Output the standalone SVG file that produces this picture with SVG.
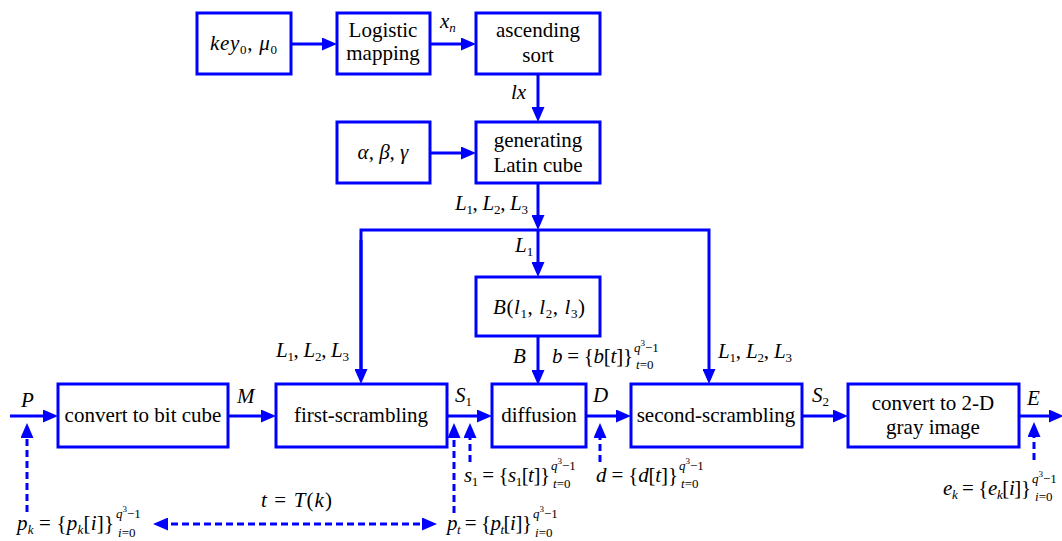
<svg xmlns="http://www.w3.org/2000/svg" width="1062" height="541" viewBox="0 0 1062 541" font-family="Liberation Serif, Times New Roman, DejaVu Serif, serif">
<style>
.box{fill:#fff;stroke:#00f;stroke-width:3}
.t{font-size:21px;fill:#000}
.i{font-style:italic}
.s{font-size:13px}
.ss{font-size:9px}
.m{text-anchor:middle}
.c{stroke:#00f;stroke-width:3;fill:none}
.d{stroke-dasharray:7 4}
</style>
<defs>
<marker id="a" markerUnits="userSpaceOnUse" markerWidth="15" markerHeight="13" refX="7" refY="6.5" orient="auto">
<path d="M0,0 L15,6.5 L0,13 z" fill="#00f"/>
</marker>
<marker id="a2" markerUnits="userSpaceOnUse" markerWidth="15" markerHeight="13" refX="8" refY="6.5" orient="auto-start-reverse">
<path d="M0,0 L15,6.5 L0,13 z" fill="#00f"/>
</marker>
</defs>

<g id="connectors">
<path class="c" d="M291,44 H329" marker-end="url(#a)"/>
<path class="c" d="M430,44 H468" marker-end="url(#a)"/>
<path class="c" d="M538,74 V114" marker-end="url(#a)"/>
<path class="c" d="M430,153 H468" marker-end="url(#a)"/>
<path class="c" d="M538,183 V222" marker-end="url(#a)"/>
<path class="c" d="M361,376 V230 H709 V376" marker-end="url(#a)"/>
<path class="c" d="M361,240 V376" marker-end="url(#a)"/>
<path class="c" d="M538,230 V269" marker-end="url(#a)"/>
<path class="c" d="M538,336 V377" marker-end="url(#a)"/>
<path class="c" d="M10,416 H50" marker-end="url(#a)"/>
<path class="c" d="M228,416 H268" marker-end="url(#a)"/>
<path class="c" d="M447,416 H484" marker-end="url(#a)"/>
<path class="c" d="M586,416 H623" marker-end="url(#a)"/>
<path class="c" d="M802,416 H840" marker-end="url(#a)"/>
<path class="c" d="M1019,416 H1056" marker-end="url(#a)"/>
<path class="c d" d="M27,512 V431" marker-end="url(#a)"/>
<path class="c d" d="M454,513 V431" marker-end="url(#a)"/>
<path class="c d" d="M470,462 V431" marker-end="url(#a)"/>
<path class="c d" d="M600,462 V431" marker-end="url(#a)"/>
<path class="c d" d="M1034,460 V430" marker-end="url(#a)"/>
<path class="c d" d="M160,524 H430" marker-start="url(#a2)" marker-end="url(#a2)"/>
</g>

<g id="key">
<rect class="box" x="197" y="13" width="94" height="61"/>
<text class="t" x="210" y="50" textLength="67"><tspan class="i">key</tspan><tspan class="s" dy="4">0</tspan><tspan dy="-4">, </tspan><tspan class="i">μ</tspan><tspan class="s" dy="4">0</tspan></text>
</g>
<g id="logistic">
<rect class="box" x="337" y="13" width="93" height="61"/>
<text class="t m" x="383" y="37">Logistic</text>
<text class="t m" x="383" y="60">mapping</text>
</g>
<g id="sort">
<rect class="box" x="476" y="13" width="124" height="61"/>
<text class="t m" x="538" y="37">ascending</text>
<text class="t m" x="538" y="62">sort</text>
</g>
<g id="params">
<rect class="box" x="337" y="122" width="93" height="61"/>
<text class="t m i" x="383" y="159">α, β, γ</text>
</g>
<g id="latin">
<rect class="box" x="476" y="122" width="124" height="61"/>
<text class="t m" x="538" y="147">generating</text>
<text class="t m" x="538" y="172">Latin cube</text>
</g>
<g id="bfun">
<rect class="box" x="476" y="277" width="124" height="59"/>
<text class="t" x="493" y="314" textLength="92"><tspan class="i">B</tspan>(<tspan class="i">l</tspan><tspan class="s" dy="4">1</tspan><tspan dy="-4">, </tspan><tspan class="i">l</tspan><tspan class="s" dy="4">2</tspan><tspan dy="-4">, </tspan><tspan class="i">l</tspan><tspan class="s" dy="4">3</tspan><tspan dy="-4">)</tspan></text>
</g>
<g id="bitcube">
<rect class="box" x="58" y="384" width="170" height="63"/>
<text class="t m" x="143" y="422">convert to bit cube</text>
</g>
<g id="first">
<rect class="box" x="276" y="384" width="171" height="63"/>
<text class="t m" x="361" y="422">first-scrambling</text>
</g>
<g id="diffusion">
<rect class="box" x="492" y="384" width="94" height="63"/>
<text class="t m" x="539" y="422">diffusion</text>
</g>
<g id="second">
<rect class="box" x="631" y="384" width="171" height="63"/>
<text class="t m" x="716" y="422">second-scrambling</text>
</g>
<g id="gray">
<rect class="box" x="848" y="384" width="171" height="63"/>
<text class="t m" x="933" y="410">convert to 2-D</text>
<text class="t m" x="933" y="434">gray image</text>
</g>

<g id="labels">
<text class="t" x="440" y="28"><tspan class="i">x</tspan><tspan class="s i" dy="4">n</tspan></text>
<text class="t i" x="511" y="99">lx</text>
<text class="t" x="455" y="210" textLength="73"><tspan class="i">L</tspan><tspan class="s" dy="4">1</tspan><tspan dy="-4">, </tspan><tspan class="i">L</tspan><tspan class="s" dy="4">2</tspan><tspan dy="-4">, </tspan><tspan class="i">L</tspan><tspan class="s" dy="4">3</tspan></text>
<text class="t" x="515" y="252"><tspan class="i">L</tspan><tspan class="s" dy="4">1</tspan></text>
<text class="t" x="276" y="357" textLength="73"><tspan class="i">L</tspan><tspan class="s" dy="4">1</tspan><tspan dy="-4">, </tspan><tspan class="i">L</tspan><tspan class="s" dy="4">2</tspan><tspan dy="-4">, </tspan><tspan class="i">L</tspan><tspan class="s" dy="4">3</tspan></text>
<text class="t" x="718" y="358" textLength="74"><tspan class="i">L</tspan><tspan class="s" dy="4">1</tspan><tspan dy="-4">, </tspan><tspan class="i">L</tspan><tspan class="s" dy="4">2</tspan><tspan dy="-4">, </tspan><tspan class="i">L</tspan><tspan class="s" dy="4">3</tspan></text>
<text class="t i" x="513" y="363">B</text>
<text class="t" x="552" y="363" textLength="81"><tspan class="i">b</tspan> = {<tspan class="i">b</tspan>[<tspan class="i">t</tspan>]}</text>
<text class="t s i" x="634" y="352">q<tspan class="ss" dy="-6" font-style="normal">3</tspan><tspan dy="6" font-style="normal">−1</tspan></text>
<text class="t s" x="636" y="369"><tspan class="i">t</tspan>=0</text>

<text class="t i" x="21" y="407">P</text>
<text class="t i" x="237" y="403">M</text>
<text class="t" x="455" y="402"><tspan class="i">S</tspan><tspan class="s" dy="4">1</tspan></text>
<text class="t i" x="593" y="402">D</text>
<text class="t" x="812" y="402"><tspan class="i">S</tspan><tspan class="s" dy="4">2</tspan></text>
<text class="t i" x="1027" y="405">E</text>

<text class="t" x="464" y="482" textLength="86"><tspan class="i">s</tspan><tspan class="s" dy="4">1</tspan><tspan dy="-4"> = {</tspan><tspan class="i">s</tspan><tspan class="s" dy="4">1</tspan><tspan dy="-4">[</tspan><tspan class="i">t</tspan>]}</text>
<text class="t s i" x="551" y="470">q<tspan class="ss" dy="-6" font-style="normal">3</tspan><tspan dy="6" font-style="normal">−1</tspan></text>
<text class="t s" x="553" y="488"><tspan class="i">t</tspan>=0</text>

<text class="t" x="596" y="482" textLength="82"><tspan class="i">d</tspan> = {<tspan class="i">d</tspan>[<tspan class="i">t</tspan>]}</text>
<text class="t s i" x="679" y="470">q<tspan class="ss" dy="-6" font-style="normal">3</tspan><tspan dy="6" font-style="normal">−1</tspan></text>
<text class="t s" x="681" y="488"><tspan class="i">t</tspan>=0</text>

<text class="t" x="943" y="495" textLength="88"><tspan class="i">e</tspan><tspan class="s i" dy="4">k</tspan><tspan dy="-4"> = {</tspan><tspan class="i">e</tspan><tspan class="s i" dy="4">k</tspan><tspan dy="-4">[</tspan><tspan class="i">i</tspan>]}</text>
<text class="t s i" x="1032" y="483">q<tspan class="ss" dy="-6" font-style="normal">3</tspan><tspan dy="6" font-style="normal">−1</tspan></text>
<text class="t s" x="1035" y="501"><tspan class="i">i</tspan>=0</text>

<text class="t" x="17" y="530" textLength="97"><tspan class="i">p</tspan><tspan class="s i" dy="4">k</tspan><tspan dy="-4"> = {</tspan><tspan class="i">p</tspan><tspan class="s i" dy="4">k</tspan><tspan dy="-4">[</tspan><tspan class="i">i</tspan>]}</text>
<text class="t s i" x="116" y="518">q<tspan class="ss" dy="-6" font-style="normal">3</tspan><tspan dy="6" font-style="normal">−1</tspan></text>
<text class="t s" x="118" y="537"><tspan class="i">i</tspan>=0</text>

<text class="t" x="447" y="530" textLength="85"><tspan class="i">p</tspan><tspan class="s i" dy="4">t</tspan><tspan dy="-4"> = {</tspan><tspan class="i">p</tspan><tspan class="s i" dy="4">t</tspan><tspan dy="-4">[</tspan><tspan class="i">i</tspan>]}</text>
<text class="t s i" x="533" y="518">q<tspan class="ss" dy="-6" font-style="normal">3</tspan><tspan dy="6" font-style="normal">−1</tspan></text>
<text class="t s" x="535" y="537"><tspan class="i">i</tspan>=0</text>

<text class="t" x="261" y="507" textLength="71"><tspan class="i">t</tspan> = <tspan class="i">T</tspan>(<tspan class="i">k</tspan>)</text>
</g>
</svg>
